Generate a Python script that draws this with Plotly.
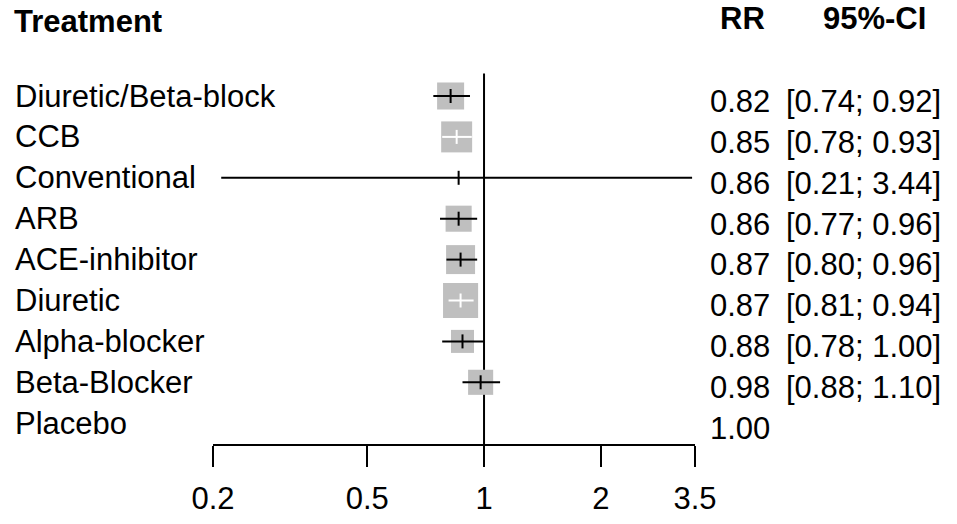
import math
import plotly.graph_objects as go

# ---------------- data ----------------
treatments = ["Diuretic/Beta-block", "CCB", "Conventional", "ARB", "ACE-inhibitor",
              "Diuretic", "Alpha-blocker", "Beta-Blocker", "Placebo"]
rr = [0.82, 0.85, 0.86, 0.86, 0.87, 0.87, 0.88, 0.98, 1.00]
ci_low = [0.74, 0.78, 0.21, 0.77, 0.80, 0.81, 0.78, 0.88, None]
ci_high = [0.92, 0.93, 3.44, 0.96, 0.96, 0.94, 1.00, 1.10, None]
weights = [7.3, 9.6, 0.01, 6.8, 8.4, 12.3, 5.3, 6.3, None]   # relative weights (%)
tick_vals = [0.2, 0.5, 1, 2, 3.5]
tick_text = ["0.2", "0.5", "1", "2", "3.5"]
header_left = "Treatment"
header_rr = "RR"
header_ci = "95%-CI"

# ---------------- layout constants ----------------
W, H = 957, 524
FONT = "Liberation Sans, Arial, sans-serif"
FS = 31
X_LEFT_PX, X_RIGHT_PX = 213, 695
ROW0_PX, ROW_H = 96, 40.9
AXIS_PX = 444
BOX_COL = "#bfbfbf"

x_range = [math.log10(tick_vals[0]), math.log10(tick_vals[-1])]
px_per_dec = (X_RIGHT_PX - X_LEFT_PX) / (x_range[1] - x_range[0])
y_top = (0 - ROW0_PX) / ROW_H
y_bot = (AXIS_PX - ROW0_PX) / ROW_H

fig = go.Figure()

n = len(treatments)
for i in range(n):
    if ci_low[i] is None:
        continue
    size = 10 * math.sqrt(weights[i])
    half = size / 2
    lo_px = (math.log10(rr[i]) - math.log10(ci_low[i])) * px_per_dec
    hi_px = (math.log10(ci_high[i]) - math.log10(rr[i])) * px_per_dec
    inside = lo_px < half and hi_px < half
    col = "white" if inside else "black"
    # box
    fig.add_trace(go.Scatter(x=[rr[i]], y=[i], mode="markers",
                             marker=dict(symbol="square", size=size, color=BOX_COL,
                                         line=dict(width=0)),
                             hoverinfo="skip", showlegend=False, cliponaxis=False))
    # CI line
    fig.add_trace(go.Scatter(x=[ci_low[i], ci_high[i]], y=[i, i], mode="lines",
                             line=dict(color=col, width=2),
                             hoverinfo="skip", showlegend=False, cliponaxis=False))
    # estimate tick
    fig.add_trace(go.Scatter(x=[rr[i]], y=[i], mode="markers",
                             marker=dict(symbol="line-ns", size=10,
                                         line=dict(color=col, width=2)),
                             hoverinfo="skip", showlegend=False, cliponaxis=False))

# reference line at RR = 1
fig.add_shape(type="line", xref="x", yref="y", x0=1, x1=1, y0=-0.55, y1=y_bot,
              line=dict(color="black", width=2), layer="below")

ann = []
for i in range(n):
    ann.append(dict(text=treatments[i], xref="paper", yref="y", x=13 / W, y=i,
                    xanchor="left", yanchor="middle", showarrow=False,
                    font=dict(size=FS, color="black", family=FONT)))
    ann.append(dict(text=f"{rr[i]:.2f}", xref="paper", yref="y", x=772 / W, y=i + 0.13,
                    xanchor="right", yanchor="middle", showarrow=False,
                    font=dict(size=FS, color="black", family=FONT)))
    if ci_low[i] is not None:
        ann.append(dict(text=f"[{ci_low[i]:.2f}; {ci_high[i]:.2f}]", xref="paper", yref="y",
                        x=943 / W, y=i + 0.13, xanchor="right", yanchor="middle",
                        showarrow=False, font=dict(size=FS, color="black", family=FONT)))

hdr_font = dict(size=FS, color="black", family=FONT, weight="bold")
ann.append(dict(text=header_left, xref="paper", yref="y", x=12 / W, y=(21 - ROW0_PX) / ROW_H,
                xanchor="left", yanchor="middle", showarrow=False, font=hdr_font))
ann.append(dict(text=header_rr, xref="paper", yref="y", x=767 / W, y=(18 - ROW0_PX) / ROW_H,
                xanchor="right", yanchor="middle", showarrow=False, font=hdr_font))
ann.append(dict(text=header_ci, xref="paper", yref="y", x=928 / W, y=(18 - ROW0_PX) / ROW_H,
                xanchor="right", yanchor="middle", showarrow=False, font=hdr_font))

fig.update_layout(
    width=W, height=H,
    margin=dict(l=0, r=0, t=0, b=0, pad=0, autoexpand=False),
    paper_bgcolor="white", plot_bgcolor="white",
    showlegend=False,
    annotations=ann,
    xaxis=dict(type="log", range=x_range,
               domain=[X_LEFT_PX / W, X_RIGHT_PX / W],
               showline=True, linecolor="black", linewidth=2,
               ticks="outside", ticklen=21, tickwidth=2, tickcolor="black",
               tickvals=tick_vals, ticktext=tick_text,
               tickfont=dict(size=FS, color="black", family=FONT),
               ticklabelstandoff=5, automargin=False,
               showgrid=False, zeroline=False, fixedrange=True),
    yaxis=dict(range=[y_bot, y_top], domain=[(H - AXIS_PX) / H, 1],
               visible=False, automargin=False,
               showgrid=False, zeroline=False, fixedrange=True),
)

fig.write_html("out.html", config={"displayModeBar": False})
